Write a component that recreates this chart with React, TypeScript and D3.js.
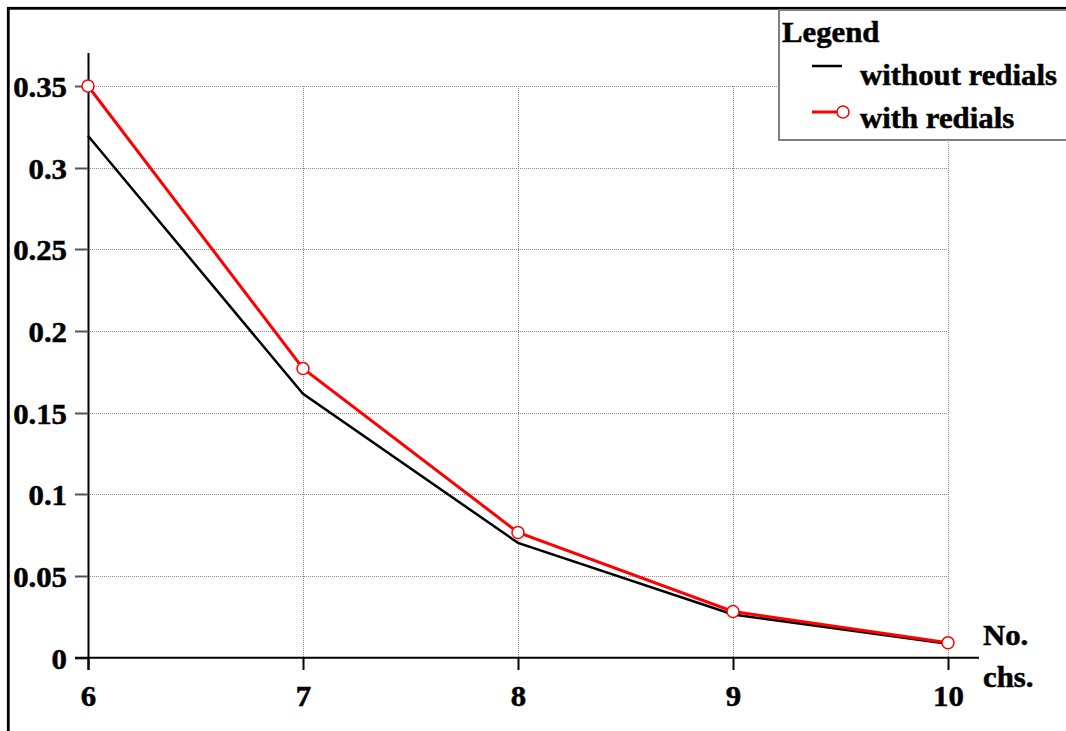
import React, { useEffect, useRef } from "react";
import * as d3 from "d3";

const channels = [6, 7, 8, 9, 10];
const withoutRedials = [0.3195, 0.1615, 0.0703, 0.0265, 0.0085];
const withRedials = [0.35, 0.1771, 0.0767, 0.0283, 0.0092];
const yTicks = [0, 0.05, 0.1, 0.15, 0.2, 0.25, 0.3, 0.35];
const yTickLabels = ["0", "0.05", "0.1", "0.15", "0.2", "0.25", "0.3", "0.35"];
const legendTitle = "Legend";
const seriesNames = ["without redials", "with redials"];
const axisLabel = ["No.", "chs."];

const W = 1066;
const H = 731;
const FONT = "'Liberation Serif', 'Times New Roman', serif";
const FS = 28.5;
const SX = 1.08;

export default function App() {
  const ref = useRef<SVGSVGElement | null>(null);

  useEffect(() => {
    const svg = d3.select(ref.current);
    svg.selectAll("*").remove();

    const x = d3.scaleLinear().domain([6, 10]).range([88, 948]);
    const y = d3.scaleLinear().domain([0, 0.35]).range([657.7, 86]);

    const text = (
      g: d3.Selection<any, any, any, any>,
      tx: number,
      ty: number,
      s: string,
      anchor: string
    ) =>
      g
        .append("text")
        .attr("transform", `translate(${tx},${ty}) scale(${SX},1)`)
        .attr("text-anchor", anchor)
        .attr("font-family", FONT)
        .attr("font-weight", "bold")
        .attr("font-size", FS)
        .attr("fill", "#000")
        .attr("stroke", "#000")
        .attr("stroke-width", 0.5)
        .text(s);

    // outer frame (right and bottom run past the window)
    svg
      .append("rect")
      .attr("x", 8.3)
      .attr("y", 8.3)
      .attr("width", 2000)
      .attr("height", 2000)
      .attr("fill", "#fff")
      .attr("stroke", "#000")
      .attr("stroke-width", 2.8);

    // grid
    const grid = svg.append("g").attr("stroke", "#8c8c8c").attr("stroke-width", 1).attr("stroke-dasharray", "1,1");
    yTicks.slice(1).forEach((v) => {
      grid
        .append("line")
        .attr("x1", x(6))
        .attr("x2", x(10))
        .attr("y1", Math.round(y(v)) + 0.5)
        .attr("y2", Math.round(y(v)) + 0.5);
    });
    channels.slice(1).forEach((c) => {
      grid
        .append("line")
        .attr("x1", Math.round(x(c)) + 0.5)
        .attr("x2", Math.round(x(c)) + 0.5)
        .attr("y1", y(0.35))
        .attr("y2", y(0));
    });

    // y axis
    svg.append("line").attr("x1", 88.5).attr("x2", 88.5).attr("y1", 53).attr("y2", 670).attr("stroke", "#000").attr("stroke-width", 2);
    yTicks.forEach((v, i) => {
      const ty = Math.round(y(v)) + 0.5;
      svg.append("line").attr("x1", 75).attr("x2", 88).attr("y1", ty).attr("y2", ty).attr("stroke", "#555").attr("stroke-width", 2);
      text(svg, 67, ty + 10, yTickLabels[i], "end");
    });

    // x axis
    svg.append("line").attr("x1", 75).attr("x2", 979).attr("y1", 657.7).attr("y2", 657.7).attr("stroke", "#000").attr("stroke-width", 2);
    channels.forEach((c) => {
      const tx = Math.round(x(c)) + 0.5;
      svg.append("line").attr("x1", tx).attr("x2", tx).attr("y1", 657).attr("y2", 670).attr("stroke", "#000").attr("stroke-width", 2);
      text(svg, tx, 706, String(c), "middle");
    });
    text(svg, 983, 645, axisLabel[0], "start");
    text(svg, 983, 687, axisLabel[1], "start");

    // series
    const line = d3
      .line<number>()
      .x((_, i) => x(channels[i]))
      .y((d) => y(d));

    svg.append("path").attr("d", line(withoutRedials)).attr("fill", "none").attr("stroke", "#000").attr("stroke-width", 2.5);
    svg.append("path").attr("d", line(withRedials)).attr("fill", "none").attr("stroke", "#ff0000").attr("stroke-width", 3);
    svg
      .selectAll("circle.pt")
      .data(withRedials)
      .enter()
      .append("circle")
      .attr("class", "pt")
      .attr("cx", (_, i) => x(channels[i]))
      .attr("cy", (d) => y(d))
      .attr("r", 6)
      .attr("fill", "#fff")
      .attr("stroke", "#ff0000")
      .attr("stroke-width", 1.5);

    // legend
    const lg = svg.append("g");
    lg.append("rect")
      .attr("x", 779)
      .attr("y", 10)
      .attr("width", 400)
      .attr("height", 130)
      .attr("fill", "#fff")
      .attr("stroke", "#808080")
      .attr("stroke-width", 2);
    text(lg, 782, 42, legendTitle, "start");
    lg.append("line").attr("x1", 812).attr("x2", 842).attr("y1", 66).attr("y2", 66).attr("stroke", "#000").attr("stroke-width", 2.5);
    text(lg, 860, 85, seriesNames[0], "start");
    lg.append("line").attr("x1", 812).attr("x2", 837).attr("y1", 112).attr("y2", 112).attr("stroke", "#ff0000").attr("stroke-width", 3);
    lg.append("circle").attr("cx", 843).attr("cy", 112).attr("r", 6).attr("fill", "#fff").attr("stroke", "#ff0000").attr("stroke-width", 1.5);
    text(lg, 860, 128, seriesNames[1], "start");
  }, []);

  return (
    <svg
      ref={ref}
      width={W}
      height={H}
      style={{ position: "fixed", left: 0, top: 0, background: "#fff" }}
    />
  );
}
